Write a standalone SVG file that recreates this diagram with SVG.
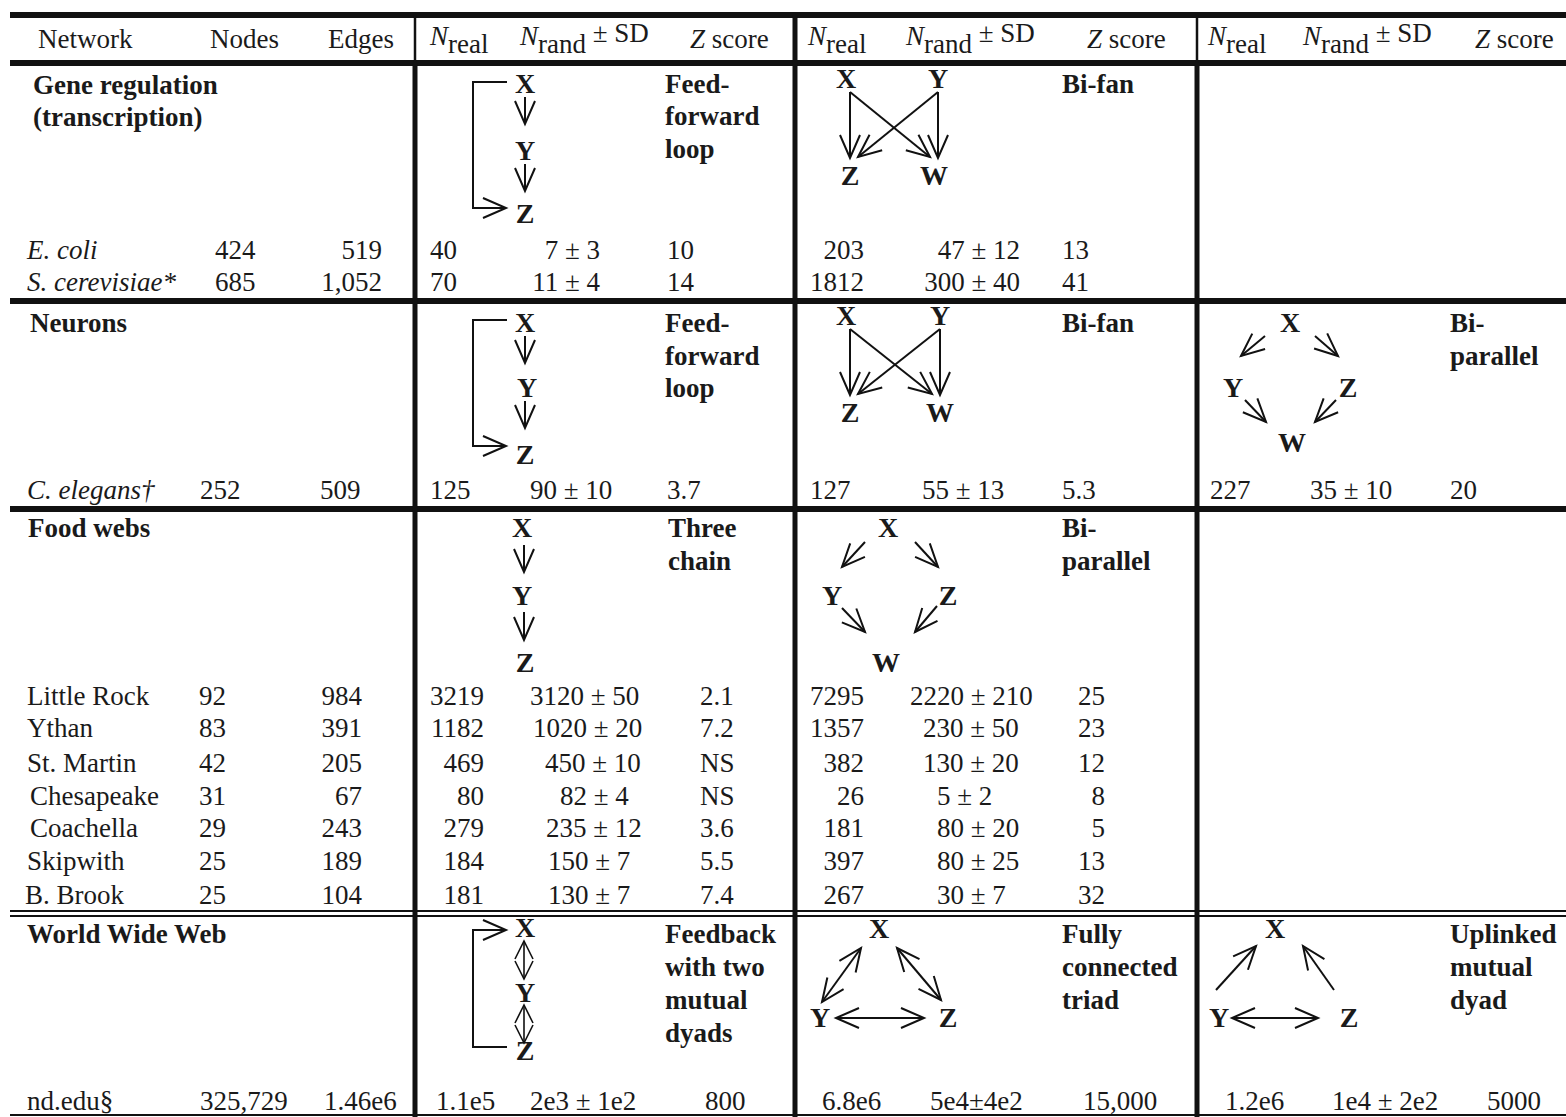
<svg xmlns="http://www.w3.org/2000/svg" width="1566" height="1117" viewBox="0 0 1566 1117">
<style>
text{font-family:"Liberation Serif","Times New Roman",serif;font-size:27px;fill:#1a1a1a}
.b{font-weight:bold}
.i{font-style:italic}
.m{font-weight:bold;font-size:28px;text-anchor:middle}
.mid{text-anchor:middle}
.end{text-anchor:end}
.sub{font-size:27px}
.rule{stroke:#111;fill:none}
.a{stroke:#111;stroke-width:2;fill:none;marker-end:url(#v)}
.a2{stroke:#111;stroke-width:2;fill:none;marker-start:url(#v);marker-end:url(#v)}
.d{stroke:#111;stroke-width:1.6;fill:none;marker-start:url(#vs);marker-end:url(#vs)}
.br{stroke:#111;stroke-width:2;fill:none}
</style>
<defs>
<marker id="v" markerUnits="userSpaceOnUse" viewBox="-26 -13 28 26" refX="0" refY="0" markerWidth="28" markerHeight="26" orient="auto-start-reverse" overflow="visible">
<path d="M-23,-10 L0,0 L-23,10" fill="none" stroke="#111" stroke-width="2"/>
</marker>
<marker id="vs" markerUnits="userSpaceOnUse" viewBox="-22 -11 24 22" refX="0" refY="0" markerWidth="24" markerHeight="22" orient="auto-start-reverse" overflow="visible">
<path d="M-18,-9 L0,0 L-18,9" fill="none" stroke="#111" stroke-width="1.6"/>
</marker>
</defs>

<g id="rules">
<line class="rule" x1="10" y1="15" x2="1566" y2="15" stroke-width="6"/>
<line class="rule" x1="10" y1="63" x2="1566" y2="63" stroke-width="6"/>
<line class="rule" x1="10" y1="301" x2="1566" y2="301" stroke-width="6"/>
<line class="rule" x1="10" y1="509" x2="1566" y2="509" stroke-width="6"/>
<line class="rule" x1="10" y1="911" x2="1566" y2="911" stroke-width="2"/>
<line class="rule" x1="10" y1="916" x2="1566" y2="916" stroke-width="2"/>
<line class="rule" x1="10" y1="1115" x2="1566" y2="1115" stroke-width="2"/>
<line class="rule" x1="415" y1="15" x2="415" y2="63" stroke-width="2.5"/>
<line class="rule" x1="415" y1="63" x2="415" y2="1117" stroke-width="5"/>
<line class="rule" x1="795" y1="15" x2="795" y2="1117" stroke-width="5"/>
<line class="rule" x1="1197" y1="15" x2="1197" y2="63" stroke-width="2.5"/>
<line class="rule" x1="1197" y1="63" x2="1197" y2="1117" stroke-width="5"/>
</g>

<g id="header">
<text x="38" y="48">Network</text>
<text x="210" y="48">Nodes</text>
<text x="328" y="48">Edges</text>
<text x="430" y="45"><tspan class="i">N</tspan><tspan dy="8">real</tspan></text>
<text x="520" y="45"><tspan class="i">N</tspan><tspan dy="8">rand</tspan><tspan dy="-11"> ± SD</tspan></text>
<text x="690" y="48"><tspan class="i">Z</tspan> score</text>
<text x="808" y="45"><tspan class="i">N</tspan><tspan dy="8">real</tspan></text>
<text x="906" y="45"><tspan class="i">N</tspan><tspan dy="8">rand</tspan><tspan dy="-11"> ± SD</tspan></text>
<text x="1087" y="48"><tspan class="i">Z</tspan> score</text>
<text x="1208" y="45"><tspan class="i">N</tspan><tspan dy="8">real</tspan></text>
<text x="1303" y="45"><tspan class="i">N</tspan><tspan dy="8">rand</tspan><tspan dy="-11"> ± SD</tspan></text>
<text x="1475" y="48"><tspan class="i">Z</tspan> score</text>
</g>

<g id="gene-regulation">
<text class="b" x="33" y="94">Gene regulation</text>
<text class="b" x="33" y="126">(transcription)</text>
<text class="i" x="27" y="259">E. coli</text>
<text x="215" y="259">424</text>
<text class="end" x="382" y="259">519</text>
<text x="430" y="259">40</text>
<text class="end" x="600" y="259">7 ± 3</text>
<text x="667" y="259">10</text>
<text class="end" x="864" y="259">203</text>
<text class="end" x="1020" y="259">47 ± 12</text>
<text x="1062" y="259">13</text>
<text class="i" x="27" y="291">S. cerevisiae*</text>
<text x="215" y="291">685</text>
<text class="end" x="382" y="291">1,052</text>
<text x="430" y="291">70</text>
<text class="end" x="600" y="291">11 ± 4</text>
<text x="667" y="291">14</text>
<text class="end" x="864" y="291">1812</text>
<text class="end" x="1020" y="291">300 ± 40</text>
<text x="1062" y="291">41</text>
</g>

<g id="motif-ffl-gene">
<text class="m" x="525" y="93">X</text>
<text class="m" x="525" y="160">Y</text>
<text class="m" x="525" y="223">Z</text>
<text class="b" x="665" y="93">Feed-</text>
<text class="b" x="665" y="125">forward</text>
<text class="b" x="665" y="158">loop</text>
</g>
<g id="motif-bifan-gene">
<text class="m" x="846" y="88">X</text>
<text class="m" x="938" y="88">Y</text>
<text class="m" x="850" y="185">Z</text>
<text class="m" x="934" y="185">W</text>
<text class="b" x="1062" y="93">Bi-fan</text>
</g>

<g id="neurons">
<text class="b" x="30" y="332">Neurons</text>
<text class="i" x="27" y="499">C. elegans†</text>
<text x="200" y="499">252</text>
<text x="320" y="499">509</text>
<text x="430" y="499">125</text>
<text x="530" y="499">90 ± 10</text>
<text x="667" y="499">3.7</text>
<text x="810" y="499">127</text>
<text x="922" y="499">55 ± 13</text>
<text x="1062" y="499">5.3</text>
<text x="1210" y="499">227</text>
<text x="1310" y="499">35 ± 10</text>
<text x="1450" y="499">20</text>
</g>
<g id="motif-ffl-neurons">
<text class="m" x="525" y="332">X</text>
<text class="m" x="527" y="397">Y</text>
<text class="m" x="525" y="464">Z</text>
<text class="b" x="665" y="332">Feed-</text>
<text class="b" x="665" y="365">forward</text>
<text class="b" x="665" y="397">loop</text>
</g>
<g id="motif-bifan-neurons">
<text class="m" x="846" y="325">X</text>
<text class="m" x="940" y="325">Y</text>
<text class="m" x="850" y="422">Z</text>
<text class="m" x="940" y="422">W</text>
<text class="b" x="1062" y="332">Bi-fan</text>
</g>
<g id="motif-biparallel-neurons">
<text class="m" x="1290" y="332">X</text>
<text class="m" x="1233" y="397">Y</text>
<text class="m" x="1348" y="397">Z</text>
<text class="m" x="1292" y="452">W</text>
<text class="b" x="1450" y="332">Bi-</text>
<text class="b" x="1450" y="365">parallel</text>
</g>

<g id="food-webs">
<text class="b" x="28" y="537">Food webs</text>
<text x="27" y="705">Little Rock</text>
<text x="27" y="737">Ythan</text>
<text x="27" y="772">St. Martin</text>
<text x="30" y="805">Chesapeake</text>
<text x="30" y="837">Coachella</text>
<text x="27" y="870">Skipwith</text>
<text x="25" y="904">B. Brook</text>
<text x="199" y="705">92</text>
<text x="199" y="737">83</text>
<text x="199" y="772">42</text>
<text x="199" y="805">31</text>
<text x="199" y="837">29</text>
<text x="199" y="870">25</text>
<text x="199" y="904">25</text>
<text class="end" x="362" y="705">984</text>
<text class="end" x="362" y="737">391</text>
<text class="end" x="362" y="772">205</text>
<text class="end" x="362" y="805">67</text>
<text class="end" x="362" y="837">243</text>
<text class="end" x="362" y="870">189</text>
<text class="end" x="362" y="904">104</text>
<text class="end" x="484" y="705">3219</text>
<text class="end" x="484" y="737">1182</text>
<text class="end" x="484" y="772">469</text>
<text class="end" x="484" y="805">80</text>
<text class="end" x="484" y="837">279</text>
<text class="end" x="484" y="870">184</text>
<text class="end" x="484" y="904">181</text>
<text x="530" y="705">3120 ± 50</text>
<text x="533" y="737">1020 ± 20</text>
<text x="545" y="772">450 ± 10</text>
<text x="560" y="805">82 ± 4</text>
<text x="546" y="837">235 ± 12</text>
<text x="548" y="870">150 ± 7</text>
<text x="548" y="904">130 ± 7</text>
<text x="700" y="705">2.1</text>
<text x="700" y="737">7.2</text>
<text x="700" y="772">NS</text>
<text x="700" y="805">NS</text>
<text x="700" y="837">3.6</text>
<text x="700" y="870">5.5</text>
<text x="700" y="904">7.4</text>
<text class="end" x="864" y="705">7295</text>
<text class="end" x="864" y="737">1357</text>
<text class="end" x="864" y="772">382</text>
<text class="end" x="864" y="805">26</text>
<text class="end" x="864" y="837">181</text>
<text class="end" x="864" y="870">397</text>
<text class="end" x="864" y="904">267</text>
<text x="910" y="705">2220 ± 210</text>
<text x="923" y="737">230 ± 50</text>
<text x="923" y="772">130 ± 20</text>
<text x="937" y="805">5 ± 2</text>
<text x="937" y="837">80 ± 20</text>
<text x="937" y="870">80 ± 25</text>
<text x="937" y="904">30 ± 7</text>
<text class="end" x="1105" y="705">25</text>
<text class="end" x="1105" y="737">23</text>
<text class="end" x="1105" y="772">12</text>
<text class="end" x="1105" y="805">8</text>
<text class="end" x="1105" y="837">5</text>
<text class="end" x="1105" y="870">13</text>
<text class="end" x="1105" y="904">32</text>
</g>
<g id="motif-threechain">
<text class="m" x="522" y="537">X</text>
<text class="m" x="522" y="605">Y</text>
<text class="m" x="525" y="672">Z</text>
<text class="b" x="668" y="537">Three</text>
<text class="b" x="668" y="570">chain</text>
</g>
<g id="motif-biparallel-food">
<text class="m" x="888" y="537">X</text>
<text class="m" x="832" y="605">Y</text>
<text class="m" x="948" y="605">Z</text>
<text class="m" x="886" y="672">W</text>
<text class="b" x="1062" y="537">Bi-</text>
<text class="b" x="1062" y="570">parallel</text>
</g>

<g id="www">
<text class="b" x="27" y="943">World Wide Web</text>
<text x="27" y="1110">nd.edu§</text>
<text x="200" y="1110">325,729</text>
<text x="324" y="1110">1.46e6</text>
<text x="436" y="1110">1.1e5</text>
<text x="530" y="1110">2e3 ± 1e2</text>
<text x="705" y="1110">800</text>
<text x="822" y="1110">6.8e6</text>
<text x="930" y="1110">5e4±4e2</text>
<text x="1083" y="1110">15,000</text>
<text x="1225" y="1110">1.2e6</text>
<text x="1332" y="1110">1e4 ± 2e2</text>
<text x="1487" y="1110">5000</text>
</g>
<g id="motif-feedback">
<text class="m" x="525" y="937">X</text>
<text class="m" x="525" y="1002">Y</text>
<text class="m" x="525" y="1060">Z</text>
<text class="b" x="665" y="943">Feedback</text>
<text class="b" x="665" y="976">with two</text>
<text class="b" x="665" y="1009">mutual</text>
<text class="b" x="665" y="1042">dyads</text>
</g>
<g id="motif-triad">
<text class="m" x="879" y="938">X</text>
<text class="m" x="820" y="1027">Y</text>
<text class="m" x="948" y="1027">Z</text>
<text class="b" x="1062" y="943">Fully</text>
<text class="b" x="1062" y="976">connected</text>
<text class="b" x="1062" y="1009">triad</text>
</g>
<g id="motif-uplinked">
<text class="m" x="1275" y="938">X</text>
<text class="m" x="1219" y="1027">Y</text>
<text class="m" x="1349" y="1027">Z</text>
<text class="b" x="1450" y="943">Uplinked</text>
<text class="b" x="1450" y="976">mutual</text>
<text class="b" x="1450" y="1009">dyad</text>
</g>

<g id="connectors">
<!-- FFL gene -->
<path class="br" d="M507,82 H473 V208 H506" marker-end="url(#v)"/>
<line class="a" x1="525" y1="97" x2="525" y2="124"/>
<line class="a" x1="525" y1="164" x2="525" y2="191"/>
<!-- Bi-fan gene -->
<line class="a" x1="850" y1="92" x2="850" y2="158"/>
<line class="a" x1="938" y1="92" x2="938" y2="158"/>
<line class="a" x1="850" y1="92" x2="930" y2="157" stroke-width="2.6"/>
<line class="a" x1="938" y1="92" x2="858" y2="157" stroke-width="2.6"/>
<!-- FFL neurons -->
<path class="br" d="M507,320 H473 V446 H506" marker-end="url(#v)"/>
<line class="a" x1="525" y1="336" x2="525" y2="363"/>
<line class="a" x1="525" y1="401" x2="525" y2="428"/>
<!-- Bi-fan neurons -->
<line class="a" x1="850" y1="329" x2="850" y2="395"/>
<line class="a" x1="940" y1="329" x2="940" y2="395"/>
<line class="a" x1="850" y1="329" x2="932" y2="394" stroke-width="2.6"/>
<line class="a" x1="940" y1="329" x2="858" y2="394" stroke-width="2.6"/>
<!-- Bi-parallel neurons -->
<line class="a" x1="1265" y1="336" x2="1241" y2="356"/>
<line class="a" x1="1315" y1="336" x2="1338" y2="356"/>
<line class="a" x1="1245" y1="400" x2="1266" y2="422"/>
<line class="a" x1="1336" y1="400" x2="1315" y2="422"/>
<!-- Three chain -->
<line class="a" x1="524" y1="545" x2="524" y2="572"/>
<line class="a" x1="524" y1="612" x2="524" y2="640"/>
<!-- Bi-parallel food -->
<line class="a" x1="865" y1="542" x2="842" y2="567"/>
<line class="a" x1="915" y1="542" x2="938" y2="567"/>
<line class="a" x1="842" y1="608" x2="865" y2="632"/>
<line class="a" x1="937" y1="606" x2="915" y2="632"/>
<!-- Feedback with two mutual dyads -->
<path class="br" d="M507,1047 H473 V930 H506" marker-end="url(#v)"/>
<line class="d" x1="524" y1="941" x2="524" y2="979"/>
<line class="d" x1="524" y1="1005" x2="524" y2="1043"/>
<!-- Fully connected triad -->
<line class="a2" x1="836" y1="1018" x2="924" y2="1018"/>
<line class="a2" x1="861" y1="948" x2="822" y2="1002"/>
<line class="a2" x1="897" y1="948" x2="941" y2="1000"/>
<!-- Uplinked mutual dyad -->
<line class="a2" x1="1232" y1="1018" x2="1318" y2="1018"/>
<line class="a" x1="1216" y1="990" x2="1256" y2="946"/>
<line class="a" x1="1334" y1="990" x2="1303" y2="946"/>
</g>
</svg>
